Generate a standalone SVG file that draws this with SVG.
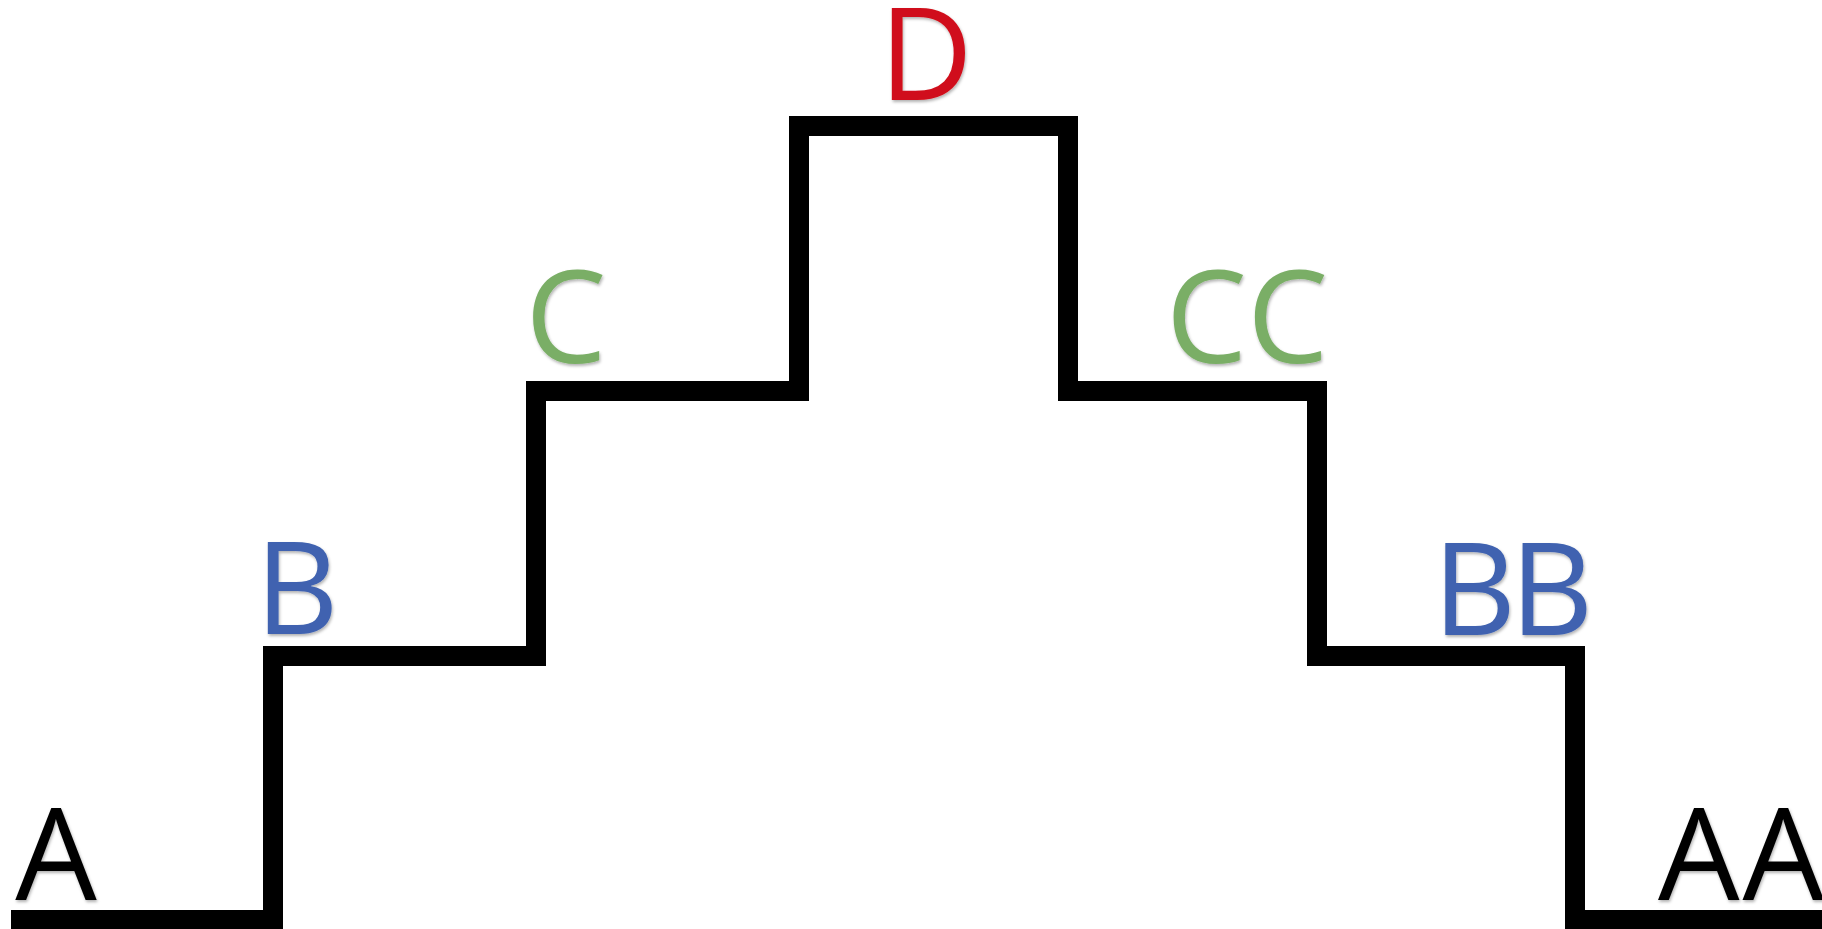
<svg xmlns="http://www.w3.org/2000/svg" width="1822" height="929" viewBox="0 0 1822 929">
<style>
.lbl{font-family:"Open Sans","Liberation Sans",sans-serif;font-size:129px;filter:url(#sh);}
.blk{fill:#000}
.red{fill:#D0101A}
.grn{fill:#7AAE66}
.blu{fill:#3F62B0}
</style>
<defs>
<filter id="sh" x="-10%" y="-10%" width="130%" height="130%">
<feDropShadow dx="1" dy="2" stdDeviation="1.5" flood-color="#000" flood-opacity="0.3"/>
</filter>
</defs>
<rect width="1822" height="929" fill="#fff"/>
<g id="connectors">
<path d="M 11 920 H 273 V 656 H 536 V 391 H 799 V 126 H 1068 V 391 H 1317 V 656 H 1575 V 920 H 1830" fill="none" stroke="#000" stroke-width="20" stroke-linejoin="miter"/>
</g>
<g id="A"><text class="lbl blk" x="56" y="900" text-anchor="middle">A</text></g>
<g id="B"><text class="lbl blu" x="297" y="634" text-anchor="middle">B</text></g>
<g id="C"><text class="lbl grn" x="566" y="363" text-anchor="middle">C</text></g>
<g id="D"><text class="lbl red" x="926" y="100" text-anchor="middle">D</text></g>
<g id="CC"><text class="lbl grn" x="1247" y="363" text-anchor="middle">CC</text></g>
<g id="BB"><text class="lbl blu" x="1510" y="635" text-anchor="middle" letter-spacing="-6">BB</text></g>
<g id="AA"><text class="lbl blk" x="1658" y="900" letter-spacing="3">AA</text></g>
</svg>
